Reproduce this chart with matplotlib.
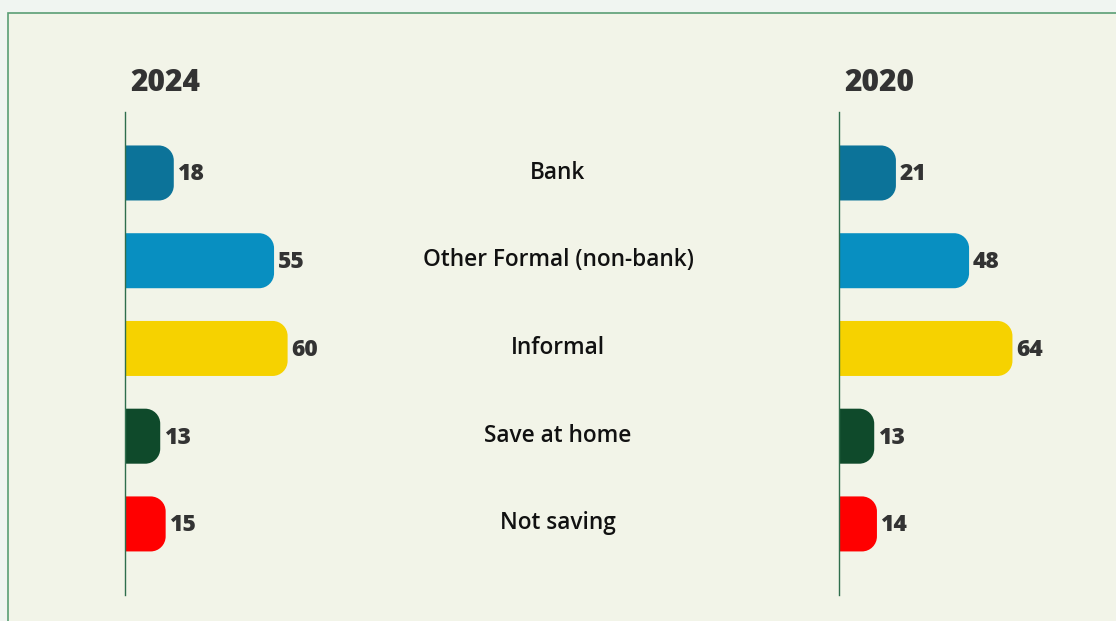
import matplotlib.pyplot as plt
from matplotlib.patches import PathPatch, Rectangle
from matplotlib.path import Path
from matplotlib.transforms import blended_transform_factory

# data
categories = ["Bank", "Other Formal (non-bank)", "Informal", "Save at home", "Not saving"]
values_2024 = [18, 55, 60, 13, 15]
values_2020 = [21, 48, 64, 13, 14]
bar_colors = ["#0c7399", "#088fc1", "#f6d200", "#0f4a2b", "#ff0000"]
years = ["2024", "2020"]

W, H = 1116, 621
px_per_unit = 2.71
row_px = 87.75
bar_h = 0.627
radius_px = 15

plt.rcParams["font.family"] = ["Open Sans", "DejaVu Sans"]

fig = plt.figure(figsize=(W / 100, H / 100), dpi=100)
fig.patch.set_facecolor("#f0f5f1")

# panel with green border
fig.patches.append(Rectangle((7.5 / W, -0.05), 1.1, (H - 12.5) / H + 0.05,
                             transform=fig.transFigure, facecolor="#f2f4e8",
                             edgecolor="#5a9e75", linewidth=1.2, zorder=-5))

top, bottom = 112, 595
ax_w = 300


def rounded_bar(v, y, h, rx, ry):
    # square left end, rounded right end
    k = 0.5523
    y0, y1 = y - h / 2, y + h / 2
    verts = [(0, y0), (v - rx, y0),
             (v - rx + k * rx, y0), (v, y0 + ry - k * ry), (v, y0 + ry),
             (v, y1 - ry),
             (v, y1 - ry + k * ry), (v - rx + k * rx, y1), (v - rx, y1),
             (0, y1), (0, y0)]
    codes = [Path.MOVETO, Path.LINETO,
             Path.CURVE4, Path.CURVE4, Path.CURVE4,
             Path.LINETO,
             Path.CURVE4, Path.CURVE4, Path.CURVE4,
             Path.LINETO, Path.CLOSEPOLY]
    return Path(verts, codes)


def panel(left_px, values, year):
    ax = fig.add_axes([left_px / W, (H - bottom) / H, ax_w / W, (bottom - top) / H])
    ax.set_facecolor("none")
    ax.set_xlim(0, ax_w / px_per_unit)
    ax.set_ylim(len(values) - 1 + 0.81, -0.695)
    for s in ["top", "right", "bottom"]:
        ax.spines[s].set_visible(False)
    ax.spines["left"].set_color("#2f6e4c")
    ax.spines["left"].set_linewidth(1.0)
    ax.spines["left"].set_zorder(3)
    ax.set_xticks([])
    ax.set_yticks([])
    rx = radius_px / px_per_unit
    ry = radius_px / row_px
    for i, (v, c) in enumerate(zip(values, bar_colors)):
        ax.add_patch(PathPatch(rounded_bar(v, i, bar_h, rx, ry), facecolor=c,
                               edgecolor="none", zorder=2))
        ax.annotate(str(v), (v, i), xytext=(2.5, -1), textcoords="offset points",
                    ha="left", va="center", fontsize=16.5, fontweight=800,
                    color="#333333")
    ax.text(0.017, 1.0 + 29 / (bottom - top), year, transform=ax.transAxes,
            ha="left", va="center", fontsize=21.5, fontweight=800, color="#333333")
    return ax


ax_left = panel(125, values_2024, years[0])
ax_right = panel(839, values_2020, years[1])

# category labels in the middle
tr = blended_transform_factory(fig.transFigure, ax_left.transData)
for i, cat in enumerate(categories):
    fig.text(558 / W, i - 0.005, cat, transform=tr, ha="center", va="center",
             fontsize=16.3, fontweight="semibold", color="#111111")

fig.savefig("out.png", dpi=100, facecolor=fig.get_facecolor())
